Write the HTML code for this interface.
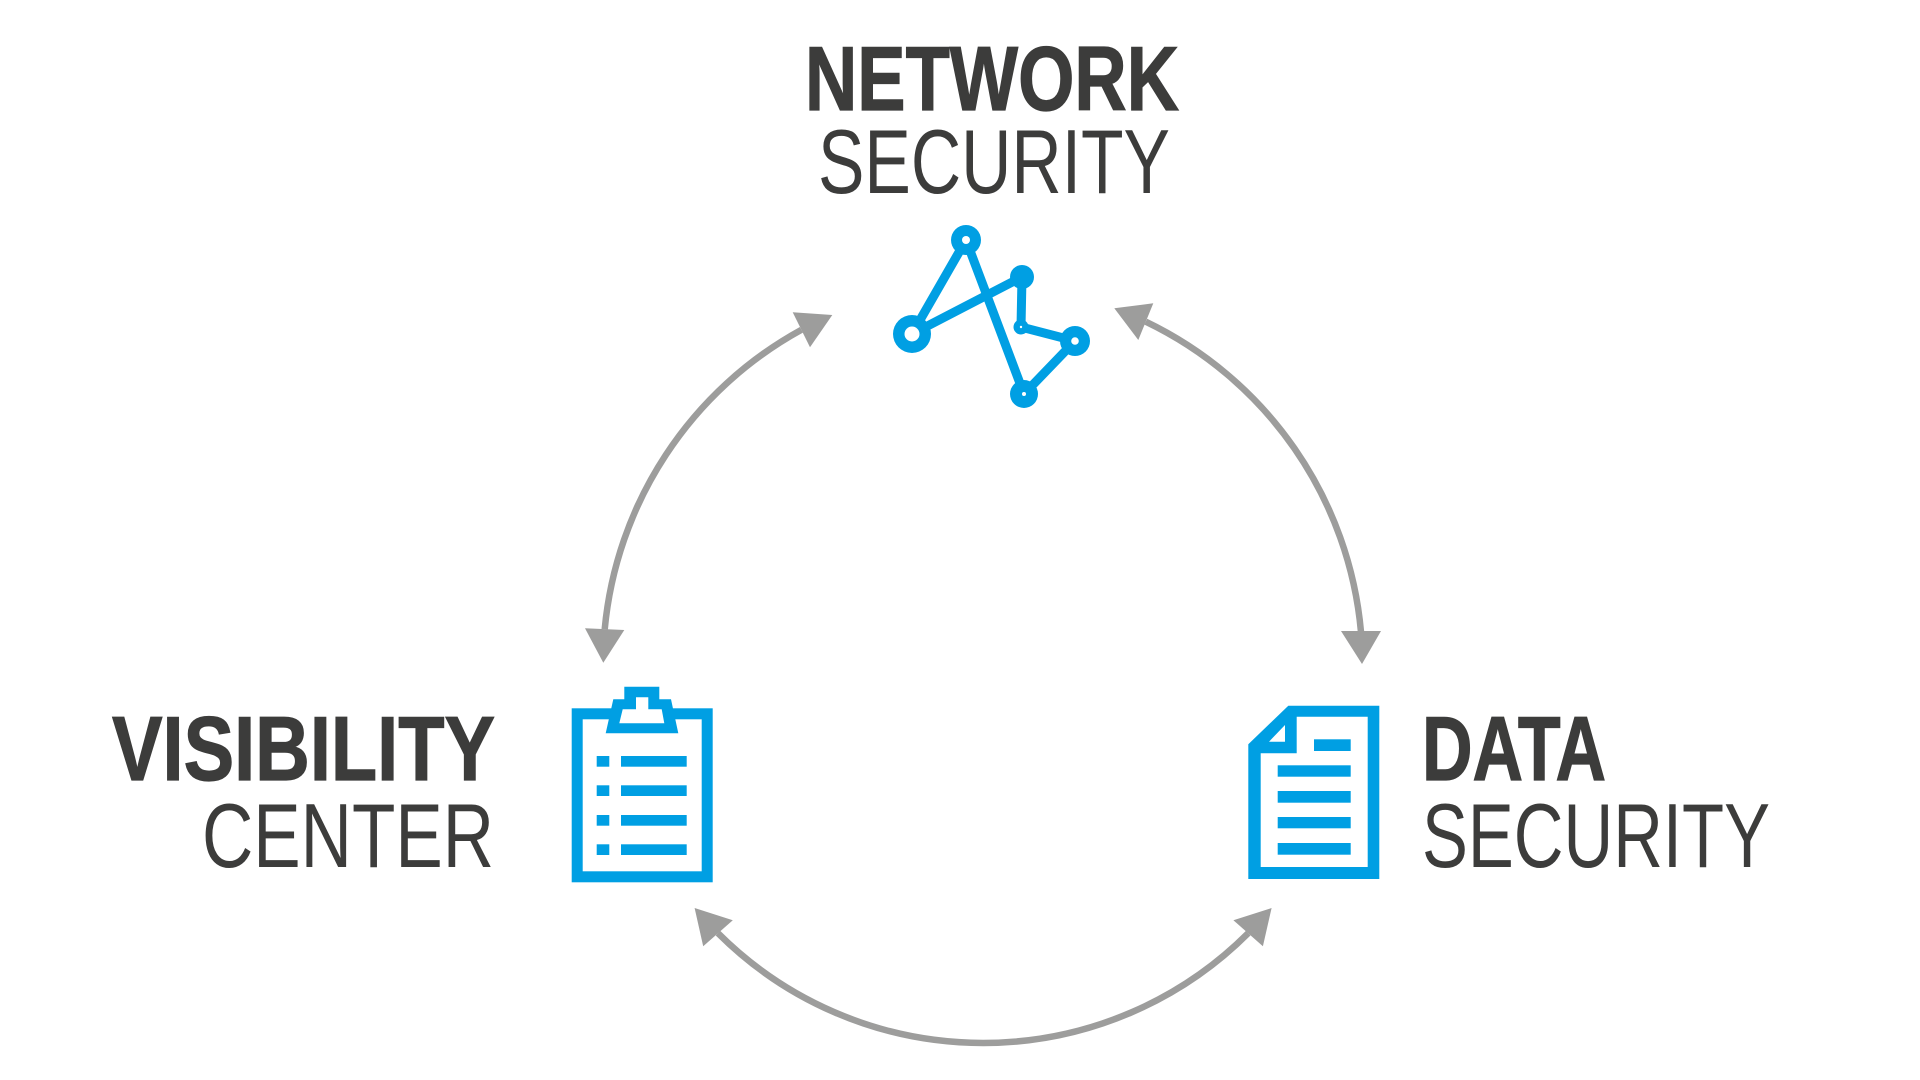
<!DOCTYPE html>
<html>
<head>
<meta charset="utf-8">
<style>
  html,body{margin:0;padding:0;background:#ffffff;}
  body{width:1920px;height:1080px;overflow:hidden;}
  svg{display:block;}
  .b{font-family:"Liberation Sans Narrow","Liberation Sans",sans-serif;font-weight:bold;fill:#3c3c3b;stroke:#3c3c3b;stroke-width:1.2;}
  .r{font-family:"Liberation Sans Narrow","Liberation Sans",sans-serif;font-weight:normal;fill:#3c3c3b;}
</style>
</head>
<body>
<svg width="1920" height="1080" viewBox="0 0 1920 1080" xmlns="http://www.w3.org/2000/svg">
  <rect width="1920" height="1080" fill="#ffffff"/>

  <!-- Titles -->
  <text class="b" x="805" y="110" font-size="91" textLength="374" lengthAdjust="spacingAndGlyphs">NETWORK</text>
  <text class="r" x="818" y="193" font-size="91" textLength="352" lengthAdjust="spacingAndGlyphs">SECURITY</text>

  <text class="b" x="112" y="780" font-size="91" textLength="383" lengthAdjust="spacingAndGlyphs">VISIBILITY</text>
  <text class="r" x="202" y="867" font-size="91" textLength="292" lengthAdjust="spacingAndGlyphs">CENTER</text>

  <text class="b" x="1422" y="780" font-size="91" textLength="184" lengthAdjust="spacingAndGlyphs">DATA</text>
  <text class="r" x="1422" y="867" font-size="91" textLength="348" lengthAdjust="spacingAndGlyphs">SECURITY</text>

  <!-- Connector arcs -->
  <g fill="none" stroke="#9d9d9c" stroke-width="6.5">
    <path d="M 801.4 329.8 A 382 382 0 0 0 604.7 629.2"/>
    <path d="M 1145.8 321.7 A 382 382 0 0 1 1361 632"/>
    <path d="M 718 933.2 A 375 375 0 0 0 1248.2 933.2"/>
  </g>
  <g fill="#9d9d9c">
    <polygon points="792.7,312.3 832.3,315 810,347.3"/>
    <polygon points="585,628.3 624.3,630 603.3,662.7"/>
    <polygon points="1114.3,308.3 1153.3,303.3 1138.3,340"/>
    <polygon points="1341,631 1381,631 1362,664"/>
    <polygon points="694.6,908 732.8,920.3 703.2,946.2"/>
    <polygon points="1271.6,908 1233.4,920.3 1262.9,946.2"/>
  </g>

  <!-- Network icon -->
  <g stroke="#009fe3" stroke-width="9" fill="none" stroke-linecap="round" stroke-linejoin="round">
    <line x1="966" y1="240" x2="912" y2="334"/>
    <line x1="966" y1="240" x2="1024" y2="394"/>
    <line x1="912" y1="334" x2="1022" y2="277"/>
    <line x1="1022" y1="277" x2="1021" y2="327"/>
    <line x1="1021" y1="327" x2="1075" y2="341"/>
    <line x1="1075" y1="341" x2="1024" y2="394"/>
  </g>
  <g fill="#009fe3">
    <circle cx="966" cy="240" r="15"/>
    <circle cx="912" cy="334" r="19"/>
    <circle cx="1022" cy="277" r="12"/>
    <circle cx="1021" cy="327" r="7.5"/>
    <circle cx="1075" cy="341" r="15"/>
    <circle cx="1024" cy="394" r="14"/>
  </g>
  <g fill="#ffffff">
    <circle cx="966" cy="240" r="4"/>
    <circle cx="912" cy="334" r="7.5"/>
    <circle cx="1021" cy="327" r="1.2"/>
    <circle cx="1075" cy="341" r="3.8"/>
    <circle cx="1024" cy="394" r="2"/>
  </g>

  <!-- Clipboard icon -->
  <rect x="577.2" y="713.8" width="130" height="163" fill="none" stroke="#009fe3" stroke-width="11"/>
  <polygon fill="#009fe3" points="605.7,733.3 613.3,699.3 624.3,699.3 624.3,686.7 659.3,686.7 659.3,699.3 671,699.3 678.3,733.3"/>
  <polygon fill="#ffffff" points="619.3,723.3 622.7,709.3 636,709.3 636,697.3 648.3,697.3 648.3,709.3 661.7,709.3 664.3,723.3"/>
  <g fill="#009fe3">
    <rect x="596.7" y="756" width="12.6" height="10.7"/>
    <rect x="621" y="756" width="65.7" height="10.7"/>
    <rect x="596.7" y="785.3" width="12.6" height="10.7"/>
    <rect x="621" y="785.3" width="65.7" height="10.7"/>
    <rect x="596.7" y="815" width="12.6" height="10.7"/>
    <rect x="621" y="815" width="65.7" height="10.7"/>
    <rect x="596.7" y="844.3" width="12.6" height="10.7"/>
    <rect x="621" y="844.3" width="65.7" height="10.7"/>
  </g>

  <!-- Document icon -->
  <polygon fill="#009fe3" points="1288.3,705.7 1379.3,705.7 1379.3,879 1248.3,879 1248.3,744.3"/>
  <polygon fill="#ffffff" points="1296.7,716.7 1367.7,716.7 1367.7,867 1260.7,867 1260.7,753.3 1296.7,753.3"/>
  <polygon fill="#ffffff" points="1285,725 1285,741.7 1269,741.7"/>
  <g fill="#009fe3">
    <rect x="1314" y="739.3" width="36.7" height="11.7"/>
    <rect x="1277.7" y="765.3" width="73" height="11.4"/>
    <rect x="1277.7" y="791" width="73" height="11.7"/>
    <rect x="1277.7" y="817" width="73" height="11.3"/>
    <rect x="1277.7" y="843" width="73" height="11.7"/>
  </g>
</svg>
</body>
</html>
